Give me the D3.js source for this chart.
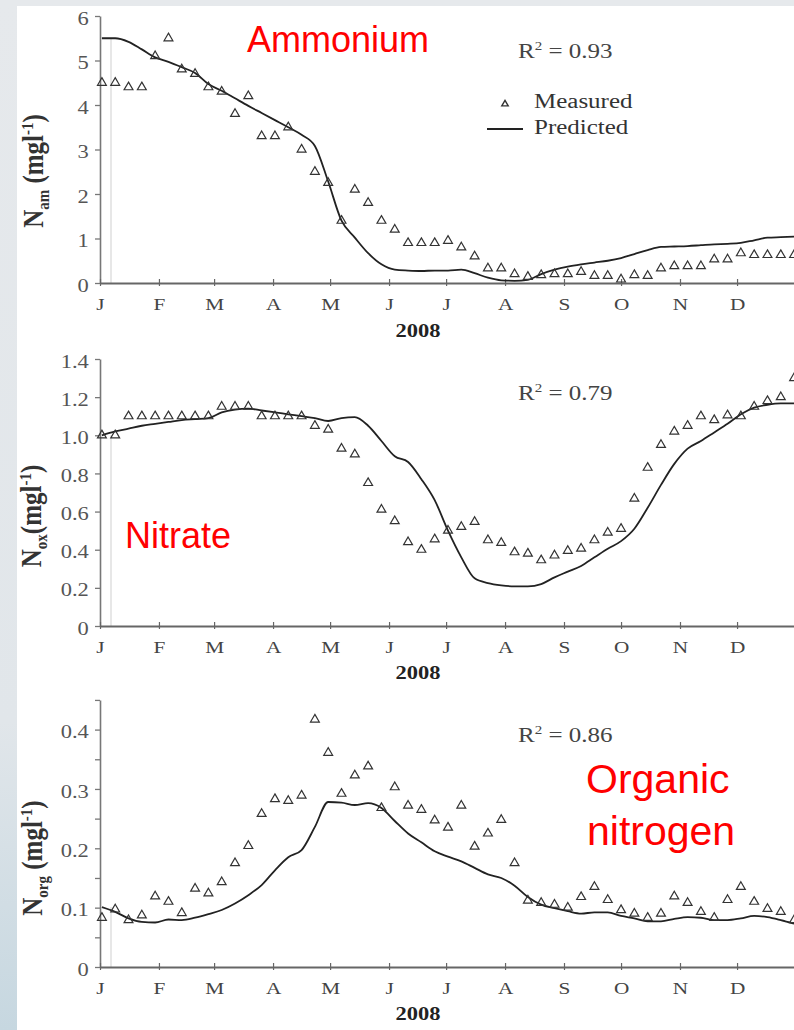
<!DOCTYPE html>
<html>
<head>
<meta charset="utf-8">
<script src="https://cdn.jsdelivr.net/npm/d3@7/dist/d3.min.js"></script>
<style>
body { margin:0; background:#e7eaed; }
</style>
</head>
<body>
<div id="chart"></div>
<script>
// month tick labels (first letters, 2008)
var monthLabels = ["J","F","M","A","M","J","J","A","S","O","N","D"];
var yearLabel = "2008";

// weekly samples, first one on 2 Jan 2008
var firstSample = new Date(2008,0,2);
var sampleStepDays = 7;

// ammonium (mg/l)
var amMeasured = [4.5,4.5,4.4,4.4,5.1,5.5,4.8,4.7,4.4,4.3,3.8,4.2,3.3,3.3,3.5,3.0,2.5,2.25,1.4,2.1,1.8,1.4,1.2,
  0.9,0.9,0.9,0.95,0.8,0.6,0.33,0.33,0.2,0.14,0.18,0.2,0.2,0.25,0.16,0.16,0.08,0.18,0.16,0.33,0.38,0.38,0.38,0.53,0.53,0.67,0.63,0.63,0.63,0.63];
var amPredicted = [5.5,5.5,5.42,5.25,5.07,4.97,4.85,4.72,4.47,4.32,4.15,3.98,3.82,3.66,3.5,3.33,3.08,2.28,1.4,1.02,0.67,0.42,0.3,
  0.28,0.27,0.28,0.28,0.3,0.22,0.12,0.06,0.05,0.07,0.2,0.3,0.37,0.42,0.46,0.5,0.56,0.65,0.74,0.81,0.82,0.83,0.85,0.87,0.88,0.9,0.96,1.02,1.03,1.04];
var amTicks = [0,1,2,3,4,5,6];

// nitrate (mg/l)
var noxMeasured = [1.0,1.0,1.1,1.1,1.1,1.1,1.1,1.1,1.1,1.15,1.15,1.15,1.1,1.1,1.1,1.1,1.05,1.03,0.93,0.9,0.75,0.61,0.55,
  0.44,0.4,0.455,0.5,0.52,0.546,0.45,0.436,0.387,0.38,0.345,0.37,0.394,0.406,0.45,0.49,0.51,0.668,0.83,0.95,1.02,1.05,1.1,1.08,1.105,1.1,1.15,1.18,1.2,1.3];
var noxPredicted = [1.0,1.02,1.035,1.05,1.06,1.07,1.08,1.085,1.09,1.12,1.135,1.14,1.13,1.12,1.11,1.1,1.09,1.075,1.09,1.095,1.05,0.97,0.89,
  0.86,0.77,0.66,0.5,0.36,0.25,0.225,0.213,0.208,0.208,0.22,0.255,0.285,0.315,0.36,0.405,0.445,0.51,0.62,0.74,0.85,0.93,0.97,1.015,1.06,1.11,1.145,1.16,1.167,1.167];
var noxTicks = [0,0.2,0.4,0.6,0.8,1.0,1.2,1.4];

// organic nitrogen (mg/l)
var orgMeasured = [0.083,0.097,0.079,0.087,0.119,0.11,0.091,0.132,0.124,0.143,0.175,0.204,0.258,0.283,0.28,0.289,0.417,0.361,0.292,0.323,0.338,0.268,0.303,
  0.272,0.265,0.247,0.235,0.272,0.203,0.225,0.248,0.175,0.112,0.108,0.105,0.1,0.118,0.135,0.113,0.096,0.09,0.083,0.09,0.119,0.108,0.093,0.083,0.113,0.135,0.11,0.098,0.093,0.079];
var orgPredicted = [0.101,0.093,0.082,0.076,0.075,0.08,0.079,0.083,0.089,0.096,0.107,0.121,0.138,0.163,0.185,0.197,0.236,0.278,0.277,0.273,0.276,0.268,0.246,
  0.225,0.21,0.195,0.186,0.178,0.167,0.156,0.15,0.137,0.118,0.105,0.099,0.094,0.09,0.092,0.092,0.086,0.082,0.077,0.077,0.081,0.084,0.083,0.079,0.079,0.082,0.086,0.084,0.079,0.073];
var orgTicks = [0,0.05,0.1,0.15,0.2,0.25,0.3,0.35,0.4,0.45];

var rSquared = ["0.93","0.79","0.86"];

// settings for window
var w = 794;
var h = 1030;
var serif = "'Liberation Serif','Times New Roman',serif";
var sans = "'Liberation Sans',Arial,sans-serif";
var sx = 1.25; // picture is stretched sideways

var svg = d3.select("#chart").append("svg").attr("width",w).attr("height",h);

// background: grey frame with a white sheet
var grad = svg.append("defs").append("linearGradient").attr("id","bg").attr("x1",0).attr("y1",0).attr("x2",0).attr("y2",1);
grad.append("stop").attr("offset","0%").attr("stop-color","#e6e9ec");
grad.append("stop").attr("offset","70%").attr("stop-color","#e1e6ea");
grad.append("stop").attr("offset","100%").attr("stop-color","#c6d7e0");
svg.append("rect").attr("width",w).attr("height",h).attr("fill","url(#bg)");
svg.append("rect").attr("x",17).attr("y",6).attr("width",w-17).attr("height",h-6).attr("fill","#fff");

var xScale = d3.scaleTime().domain([new Date(2008,0,1),new Date(2009,0,1)]).range([100,796]);
var monthStarts = d3.timeMonth.range(new Date(2008,0,1),new Date(2009,0,1));

// panel settings
var panels = [
  {measured:amMeasured, predicted:amPredicted, ticks:amTicks, labels:amTicks, dom:[0,6], y0:283, y1:16,
   fmt:function(d){ return d3.format("d")(d); }, sub:"am", space:" ", lx:43, ly:171, r2:rSquared[0], r2y:58, yr:337},
  {measured:noxMeasured, predicted:noxPredicted, ticks:noxTicks, labels:noxTicks, dom:[0,1.4], y0:626, y1:359,
   fmt:function(d){ return d===0 ? "0" : d3.format(".1f")(d); }, sub:"ox", space:"", lx:41, ly:516, r2:rSquared[1], r2y:400, yr:679},
  {measured:orgMeasured, predicted:orgPredicted, ticks:orgTicks, labels:[0,0.1,0.2,0.3,0.4], dom:[0,0.45], y0:967, y1:967-0.45*593.5,
   fmt:function(d){ return d===0 ? "0" : d3.format(".1f")(d); }, sub:"org", space:" ", lx:42, ly:858, r2:rSquared[2], r2y:742, yr:1020}
];

function sampleDate(i) { return d3.timeDay.offset(firstSample,i*sampleStepDays); }

panels.forEach(function(p) {
  var yScale = d3.scaleLinear().domain(p.dom).range([p.y0,p.y1]);
  var g = svg.append("g");

  // faint scan line near the start
  g.append("line").attr("x1",111).attr("x2",111).attr("y1",yScale(p.predicted[0])).attr("y2",p.y0)
    .attr("stroke","#cfcfcf").attr("stroke-width",1);

  // y axis
  var yAxis = d3.axisLeft(yScale).tickValues(p.ticks).tickSize(5).tickSizeOuter(0)
    .tickFormat(function(d){ return p.labels.some(function(l){ return Math.abs(l-d)<1e-9; }) ? p.fmt(d) : ""; });
  var ya = g.append("g").attr("transform","translate(100,0)").call(yAxis);
  ya.select(".domain").attr("stroke","#777").attr("stroke-width",1.6);
  ya.selectAll(".tick line").attr("stroke","#777").attr("stroke-width",1.3);
  ya.selectAll(".tick text").attr("font-family",serif).attr("font-size",18).attr("fill","#555")
    .attr("x",-9).attr("dy","0.45em").attr("transform","scale("+sx+",1)");

  // x axis
  var xAxis = d3.axisBottom(xScale).tickValues(monthStarts).tickSize(4).tickSizeOuter(0)
    .tickFormat(function(d,i){ return monthLabels[i]; });
  var xa = g.append("g").attr("transform","translate(0,"+p.y0+")").call(xAxis);
  xa.select(".domain").attr("stroke","#666").attr("stroke-width",1.8);
  xa.selectAll(".tick line").attr("stroke","#666").attr("stroke-width",1.2).attr("y1",-4).attr("y2",3);
  xa.selectAll(".tick text").attr("font-family",serif).attr("font-size",17).attr("fill","#444")
    .attr("y",15).attr("transform","scale("+sx+",1)");
  // undo the stretch on the x position of each label
  xa.selectAll(".tick").each(function(d){
    d3.select(this).select("text").attr("x",0);
  });

  // year label
  g.append("text").attr("transform","translate(418,"+p.yr+") scale("+sx+",1)").attr("text-anchor","middle")
    .attr("font-family",serif).attr("font-weight","bold").attr("font-size",18).attr("fill","#222").text(yearLabel);

  // y label
  var yl = g.append("text").attr("transform","translate("+p.lx+","+p.ly+") rotate(-90) scale(1,1.15)")
    .attr("text-anchor","middle").attr("font-family",serif).attr("font-weight","bold").attr("font-size",25).attr("fill","#333");
  yl.append("tspan").text("N");
  yl.append("tspan").attr("font-size",15).attr("dy",5).text(p.sub);
  yl.append("tspan").attr("dy",-5).text(p.space+"(mgl");
  yl.append("tspan").attr("font-size",15).attr("dy",-9).text("-1");
  yl.append("tspan").attr("dy",9).text(")");

  // R squared
  var rt = g.append("text").attr("transform","translate(518,"+p.r2y+") scale("+sx+",1)")
    .attr("font-family",serif).attr("font-size",20).attr("fill","#444");
  rt.append("tspan").text("R");
  rt.append("tspan").attr("font-size",12).attr("dy",-8).text("2");
  rt.append("tspan").attr("dy",8).text(" = "+p.r2);

  // predicted line
  var line = d3.line().x(function(d,i){ return xScale(sampleDate(i)); }).y(function(d){ return yScale(d); }).curve(d3.curveMonotoneX);
  g.append("path").datum(p.predicted).attr("d",line).attr("fill","none").attr("stroke","#222").attr("stroke-width",1.8);

  // measured points
  g.selectAll(".pt").data(p.measured).enter().append("path").attr("class","pt")
    .attr("transform",function(d,i){ return "translate("+xScale(sampleDate(i))+","+yScale(d)+")"; })
    .attr("d",d3.symbol().type(d3.symbolTriangle).size(34))
    .attr("fill","none").attr("stroke","#333").attr("stroke-width",1.2);
});

// legend (top panel)
svg.append("path").attr("transform","translate(505,104)").attr("d",d3.symbol().type(d3.symbolTriangle).size(18))
  .attr("fill","none").attr("stroke","#333").attr("stroke-width",1.4);
svg.append("line").attr("x1",487).attr("x2",523).attr("y1",129).attr("y2",129).attr("stroke","#222").attr("stroke-width",1.8);
svg.append("text").attr("transform","translate(534,108) scale("+sx+",1)").attr("font-family",serif).attr("font-size",20).attr("fill","#333").text("Measured");
svg.append("text").attr("transform","translate(534,134) scale("+sx+",1)").attr("font-family",serif).attr("font-size",20).attr("fill","#333").text("Predicted");

// red annotations
svg.append("text").attr("x",247).attr("y",52).attr("font-family",sans).attr("font-size",36).attr("fill","#ff0000").text("Ammonium");
svg.append("text").attr("x",125).attr("y",548).attr("font-family",sans).attr("font-size",36).attr("fill","#ff0000").text("Nitrate");
svg.append("text").attr("x",586).attr("y",793).attr("font-family",sans).attr("font-size",41).attr("fill","#ff0000").text("Organic");
svg.append("text").attr("x",587).attr("y",845).attr("font-family",sans).attr("font-size",41).attr("fill","#ff0000").text("nitrogen");
</script>
</body>
</html>
